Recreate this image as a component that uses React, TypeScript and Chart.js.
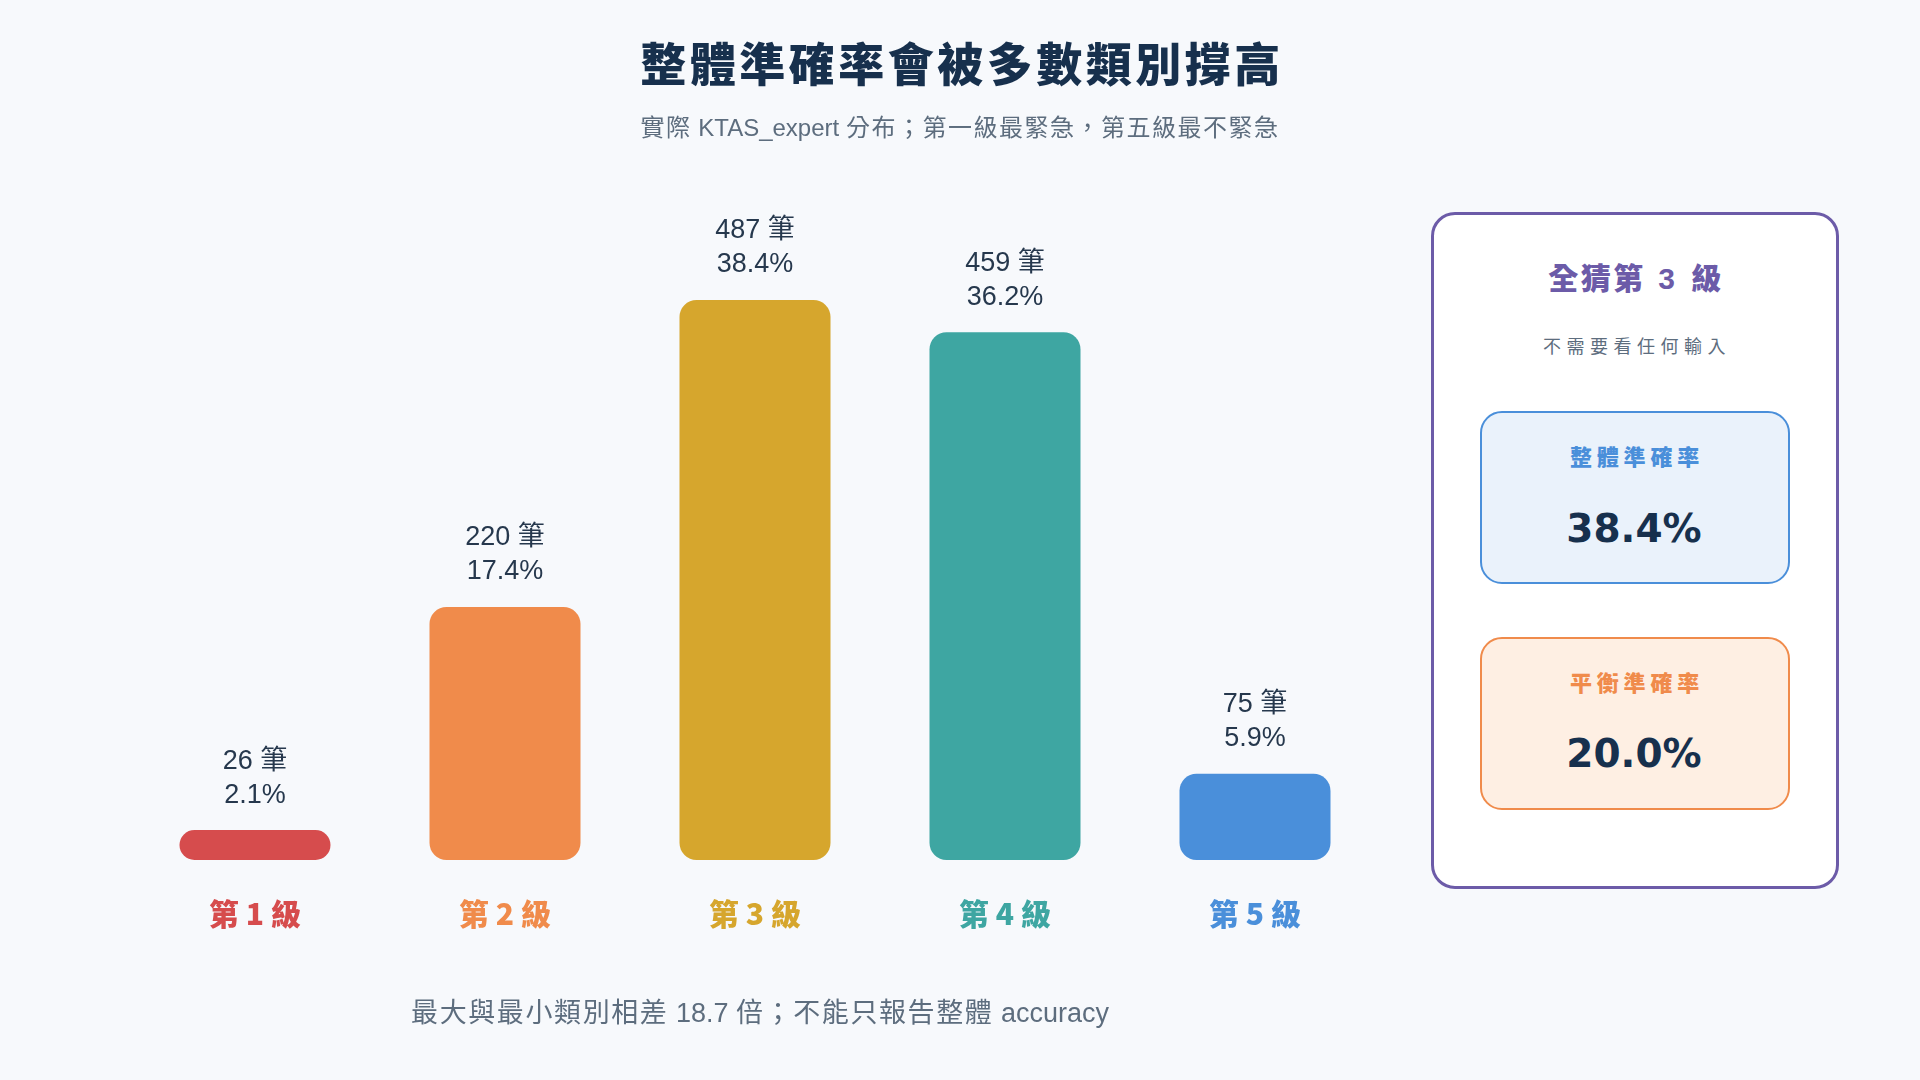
import { useEffect, useRef } from 'react';
import { Chart, registerables, Plugin } from 'chart.js';

Chart.register(...registerables);

const levels = ['第 1 級', '第 2 級', '第 3 級', '第 4 級', '第 5 級'];
const counts = [26, 220, 487, 459, 75];
const shares = ['2.1%', '17.4%', '38.4%', '36.2%', '5.9%'];
const levelColors = ['#d64c4d', '#f08b4b', '#d6a62d', '#3ea6a2', '#4a8fda'];

const FONT = '"Liberation Sans", "Noto Sans CJK TC", sans-serif';
const CJK = '"Noto Sans CJK TC", sans-serif';

// two-line label over each bar: count and share
const barLabels: Plugin<'bar'> = {
  id: 'barLabels',
  afterDatasetsDraw(chart) {
    const ctx = chart.ctx;
    const meta = chart.getDatasetMeta(0);
    ctx.save();
    ctx.fillStyle = '#26384d';
    ctx.font = `27px ${FONT}`;
    ctx.textAlign = 'center';
    ctx.textBaseline = 'middle';
    meta.data.forEach((bar, i) => {
      ctx.fillText(`${counts[i]} 筆`, bar.x, bar.y - 69);
      ctx.fillText(shares[i], bar.x, bar.y - 35);
    });
    ctx.restore();
  },
};

// wrap runs of CJK characters so they use the CJK face, a bit more spaced
function Mixed({ text, spacing = 0 }: { text: string; spacing?: number }) {
  const parts = text.split(/([\u3000-\u9fff\uff00-\uffef]+)/);
  return (
    <>
      {parts.map((p, i) =>
        /[\u3000-\u9fff\uff00-\uffef]/.test(p) ? (
          <span key={i} style={{ fontFamily: CJK, letterSpacing: spacing }}>
            {p}
          </span>
        ) : (
          <span key={i}>{p}</span>
        )
      )}
    </>
  );
}

export default function App() {
  const canvasRef = useRef<HTMLCanvasElement>(null);
  const chartRef = useRef<Chart | null>(null);

  useEffect(() => {
    if (!canvasRef.current) return;
    if (chartRef.current) chartRef.current.destroy();

    chartRef.current = new Chart(canvasRef.current, {
      type: 'bar',
      data: {
        labels: levels,
        datasets: [
          {
            data: counts,
            backgroundColor: levelColors,
            borderRadius: 17,
            borderSkipped: false,
            categoryPercentage: 1,
            barPercentage: 0.604,
          },
        ],
      },
      options: {
        responsive: false,
        animation: false,
        layout: { padding: { left: 130, right: 540, top: 170, bottom: 112 } },
        plugins: {
          legend: { display: false },
          tooltip: { enabled: false },
          title: { display: false },
        },
        scales: {
          y: { min: 0, max: 600, display: false },
          x: {
            grid: { display: false, drawTicks: false },
            border: { display: false },
            ticks: {
              padding: 36,
              color: (c) => levelColors[c.index],
              font: { family: CJK, size: 30, weight: 900 },
            },
          },
        },
      },
      plugins: [barLabels],
    });

    return () => {
      chartRef.current?.destroy();
      chartRef.current = null;
    };
  }, []);

  const center: React.CSSProperties = {
    position: 'absolute',
    textAlign: 'center',
    whiteSpace: 'nowrap',
    transform: 'translate(-50%, -50%)',
  };

  return (
    <div
      style={{
        position: 'fixed',
        left: 0,
        top: 0,
        width: 1920,
        height: 1080,
        background: '#f7f9fc',
        fontFamily: FONT,
        overflow: 'hidden',
      }}
    >
      <canvas ref={canvasRef} width={1920} height={1080} style={{ position: 'absolute', left: 0, top: 0 }} />

      <div
        style={{
          ...center,
          left: 962,
          top: 61,
          fontSize: 46,
          fontWeight: 900,
          color: '#17304d',
          fontFamily: CJK,
          letterSpacing: 3.5,
        }}
      >
        整體準確率會被多數類別撐高
      </div>
      <div style={{ ...center, left: 960, top: 125, fontSize: 24, color: '#5d6d7e' }}>
        <Mixed text="實際 KTAS_expert 分布；第一級最緊急，第五級最不緊急" spacing={1.5} />
      </div>
      <div style={{ ...center, left: 760, top: 1010, fontSize: 27, color: '#5d6d7e' }}>
        <Mixed text="最大與最小類別相差 18.7 倍；不能只報告整體 accuracy" spacing={1.6} />
      </div>

      <div
        style={{
          position: 'absolute',
          left: 1431,
          top: 212,
          width: 408,
          height: 677,
          boxSizing: 'border-box',
          border: '3px solid #6c5ba8',
          borderRadius: 24,
          background: '#ffffff',
        }}
      />
      <div style={{ ...center, left: 1636, top: 276, fontSize: 30, fontWeight: 900, color: '#6c5ba8', letterSpacing: 4 }}>
        <Mixed text="全猜第 3 級" spacing={2.5} />
      </div>
      <div style={{ ...center, left: 1637, top: 345, fontSize: 18, color: '#5d6d7e', letterSpacing: 5.5, fontFamily: CJK }}>
        不需要看任何輸入
      </div>

      <div
        style={{
          position: 'absolute',
          left: 1480,
          top: 411,
          width: 310,
          height: 173,
          boxSizing: 'border-box',
          border: '2px solid #4a8fda',
          borderRadius: 22,
          background: '#eaf2fb',
        }}
      />
      <div style={{ ...center, left: 1637, top: 455, fontSize: 22, fontWeight: 900, color: '#4a8fda', letterSpacing: 4.8, fontFamily: CJK }}>
        整體準確率
      </div>
      <div style={{ ...center, left: 1634, top: 528, fontSize: 39, fontWeight: 'bold', color: '#17304d', fontFamily: '"DejaVu Sans"' }}>
        38.4%
      </div>

      <div
        style={{
          position: 'absolute',
          left: 1480,
          top: 637,
          width: 310,
          height: 173,
          boxSizing: 'border-box',
          border: '2px solid #f08b4b',
          borderRadius: 22,
          background: '#feefe3',
        }}
      />
      <div style={{ ...center, left: 1637, top: 681, fontSize: 22, fontWeight: 900, color: '#f08b4b', letterSpacing: 4.8, fontFamily: CJK }}>
        平衡準確率
      </div>
      <div style={{ ...center, left: 1634, top: 753, fontSize: 39, fontWeight: 'bold', color: '#17304d', fontFamily: '"DejaVu Sans"' }}>
        20.0%
      </div>
    </div>
  );
}
